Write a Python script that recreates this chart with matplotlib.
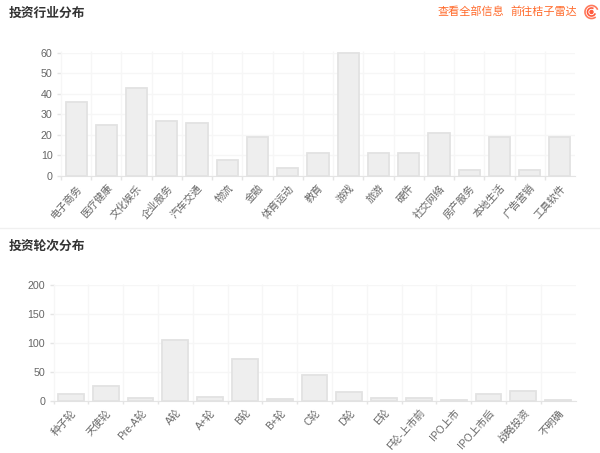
#!/usr/bin/env python3
"""Two bar charts of investment distribution, by industry and by round."""

import numpy as np
import matplotlib
matplotlib.use("Agg")
import matplotlib.pyplot as plt
from matplotlib.patches import Arc, Circle
from matplotlib.transforms import ScaledTranslation

plt.rcParams["font.family"] = ["Liberation Sans", "Noto Sans CJK SC", "DejaVu Sans"]

W, H = 600, 453
GRID = "#f6f6f6"
AXIS = "#e4e4e4"
BAR_FACE = "#eeeeee"
BAR_EDGE = "#e2e2e2"
TICK_TEXT = "#666666"
TITLE_TEXT = "#333333"
ORANGE = "#ff6a2b"

industry_labels = ["电子商务", "医疗健康", "文化娱乐", "企业服务", "汽车交通", "物流", "金融",
                   "体育运动", "教育", "游戏", "旅游", "硬件", "社交网络", "房产服务",
                   "本地生活", "广告营销", "工具软件"]
industry_values = [36, 25, 43, 27, 26, 8, 19, 4, 11, 60, 11, 11, 21, 3, 19, 3, 19]
industry_yticks = [0, 10, 20, 30, 40, 50, 60]

round_labels = ["种子轮", "天使轮", "Pre-A轮", "A轮", "A+轮", "B轮", "B+轮", "C轮", "D轮", "E轮",
                "F轮-上市前", "IPO上市", "IPO上市后", "战略投资", "不明确"]
round_values = [11, 25, 5, 105, 6, 72, 3, 44, 15, 4, 5, 1, 11, 17, 1]
round_yticks = [0, 50, 100, 150, 200]


def bar_panel(fig, box, labels, values, yticks, bar_width):
    # box is left, top, right, bottom in pixels from the top-left corner
    left, top, right, bottom = box
    ax = fig.add_axes([left / W, 1 - bottom / H, (right - left) / W, (bottom - top) / H])
    x = np.arange(len(values))
    ax.bar(x, values, width=bar_width, color=BAR_FACE, edgecolor=BAR_EDGE, linewidth=1.3,
           zorder=3, clip_on=False)
    ax.set_xlim(-0.5, len(values) - 0.5)
    ax.set_ylim(0, yticks[-1])
    ax.set_yticks(yticks)
    ax.set_xticks(x)
    ax.set_xticklabels(labels, rotation=48, ha="right", rotation_mode="anchor",
                       fontsize=7.4, color=TICK_TEXT)
    # labels sit a little left of the bar centres
    nudge = ScaledTranslation(-3 / 100, 0, fig.dpi_scale_trans)
    for label in ax.get_xticklabels():
        label.set_transform(label.get_transform() + nudge)
    ax.tick_params(axis="x", length=0, pad=5)
    ax.tick_params(axis="y", length=3, width=1, color=AXIS, labelsize=7.7, labelcolor=TICK_TEXT, pad=3)
    for side in ["top", "right", "left"]:
        ax.spines[side].set_visible(False)
    ax.spines["bottom"].set_color(AXIS)
    ax.grid(axis="y", color=GRID, linewidth=1, zorder=0)
    ax.set_axisbelow(True)
    # category boundaries, running a little past both ends of the plot area
    edges = np.arange(len(values)) - 0.5
    ax.vlines(edges, 0, 1.015, transform=ax.get_xaxis_transform(), color=GRID,
              linewidth=1, clip_on=False, zorder=1)
    ax.vlines(edges, -0.03, 0, transform=ax.get_xaxis_transform(), color=AXIS,
              linewidth=1, clip_on=False, zorder=1)
    return ax


fig = plt.figure(figsize=(W / 100, H / 100), dpi=100, facecolor="white")

bar_panel(fig, (61, 52.7, 575, 176), industry_labels, industry_values, industry_yticks, 0.7)
bar_panel(fig, (53.5, 285.3, 575.5, 400.7), round_labels, round_values, round_yticks, 0.74)

fig.text(9 / W, 1 - 13.5 / H, "投资行业分布", fontsize=9.2, fontweight="bold", color=TITLE_TEXT, va="center")
fig.text(9 / W, 1 - 247 / H, "投资轮次分布", fontsize=9.2, fontweight="bold", color=TITLE_TEXT, va="center")
fig.text(438 / W, 1 - 12 / H, "查看全部信息", fontsize=8, color=ORANGE, va="center")
fig.text(510 / W, 1 - 12 / H, "前往桔子雷达", fontsize=8, color=ORANGE, va="center")

# overlay in pixel coordinates for the divider and the radar icon
over = fig.add_axes([0, 0, 1, 1], facecolor="none")
over.set_xlim(0, W)
over.set_ylim(H, 0)
over.axis("off")
over.plot([0, W], [227.5, 227.5], color="#f0f0f0", linewidth=1)
over.add_patch(Arc((591.5, 12), 13, 13, theta1=50, theta2=340, edgecolor="#ff7a5c", linewidth=1.2))
over.add_patch(Arc((591.5, 12), 8, 8, theta1=20, theta2=300, edgecolor="#ff5a3c", linewidth=1.2))
over.add_patch(Circle((591.5, 12), 1.5, color="#ff5a3c"))

fig.savefig("out.png", dpi=100)
